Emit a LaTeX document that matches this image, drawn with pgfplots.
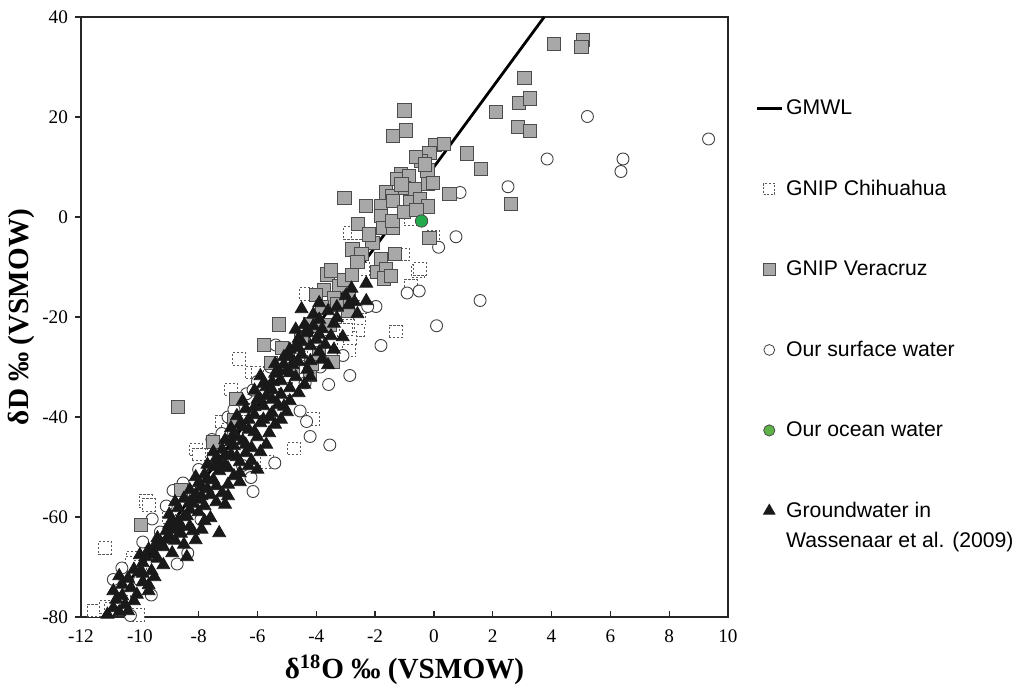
\documentclass[border=0pt]{standalone}
\usepackage{fontspec}
\setmainfont{Liberation Serif}
\newfontfamily\legfont{Liberation Sans}
\usepackage{pgfplots}
\pgfplotsset{compat=1.18}
\definecolor{vgray}{HTML}{A8A8A8}
\definecolor{ogreen}{HTML}{22AA4C}
\definecolor{lgreen}{HTML}{5FB246}
\pgfplotsset{
  lineleg/.style={legend image code/.code={\draw[##1] (0pt,0pt) -- (12.5pt,0pt);}},
  markleg/.style={legend image code/.code={\draw[mark repeat=2,mark phase=2,##1] plot coordinates {(0pt,0pt) (6.25pt,0pt) (12.5pt,0pt)};}},
}
\begin{document}
\begin{tikzpicture}
\begin{axis}[
  at={(0,0)}, anchor=south west,
  scale only axis, width=323.5pt, height=300pt,
  xmin=-12, xmax=10, ymin=-80, ymax=40,
  xtick={-12,-10,...,10}, ytick={-80,-60,...,40},
  xticklabels={-12,-10,-8,-6,-4,-2,0,2,4,6,8,10},
  yticklabels={-80,-60,-40,-20,0,20,40},
  tick label style={font=\fontsize{9.6}{11}\selectfont},
  axis line style={line width=0.7pt, black!85},
  tick style={black!85, line width=0.6pt},
  xtick pos=bottom, ytick pos=left,
  tick align=outside, major tick length=3pt,
  xtick style={yshift=3pt},
  xlabel={δ\textsuperscript{18}O ‰ (VSMOW)},
  ylabel={δD ‰ (VSMOW)},
  label style={font=\fontsize{14.6}{18}\selectfont\bfseries},
  xlabel style={at={(axis description cs:0.5,-0.0883)}, anchor=center},
  ylabel style={at={(axis description cs:-0.0917,0.5)}, anchor=center},
  legend style={at={(axis description cs:1.0417,0.868)}, anchor=north west,
    draw=none, fill=none, font=\legfont\fontsize{10.6}{12}\selectfont,
    row sep=28.2pt, inner sep=0pt, nodes={inner sep=1.5pt}},
  legend cell align=left,
]
% legend images
\addlegendimage{black, line width=1.4pt, lineleg}
\addlegendentry{GMWL}
\addlegendimage{only marks, mark=square*, mark size=2.7pt, mark options={fill=white, draw=black!65, line width=0.4pt, dash pattern=on 1pt off 0.8pt}, markleg}
\addlegendentry{GNIP Chihuahua}
\addlegendimage{only marks, mark=square*, mark size=3pt, mark options={fill=vgray, draw=black!70, line width=0.5pt}, markleg}
\addlegendentry{GNIP Veracruz}
\addlegendimage{only marks, mark=*, mark size=2.7pt, mark options={fill=white, draw=black!75, line width=0.4pt}, markleg}
\addlegendentry{Our surface water}
\addlegendimage{only marks, mark=*, mark size=2.8pt, mark options={fill=lgreen, draw=black!70, line width=0.4pt}, markleg}
\addlegendentry{Our ocean water}
\addlegendimage{only marks, mark=triangle*, mark size=3.3pt, mark options={fill=black!90, draw=black!90}, markleg}
\addlegendentry{\rlap{\raisebox{-15pt}[0pt][0pt]{Wassenaar et al. (2009)}}Groundwater in}

% GMWL
\addplot[black, line width=1.4pt, forget plot] coordinates {(-11.25,-80) (3.75,40)};

% GNIP Chihuahua
\addplot[only marks, mark=square*, mark size=3.2pt, mark options={fill=white, draw=black!65, line width=0.45pt, dash pattern=on 1.1pt off 0.9pt}, forget plot] coordinates {
(-11.19,-66.2) (-11.57,-78.7) (-11.16,-78.0) (-10.23,-68.1) (-10.27,-69.2) (-10.05,-79.6)
(-9.80,-56.75) (-9.70,-57.6) (-8.09,-46.5) (-7.92,-47.5) (-7.22,-40.9) (-6.90,-34.5)
(-6.63,-28.4) (-6.18,-31.1) (-6.0,-31.1) (-4.75,-46.3) (-4.10,-40.4) (-4.35,-15.4)
(-2.86,-3.2) (-2.59,-3.2) (-0.53,-10.8) (-0.48,-10.35) (-1.30,-22.9) (-2.59,-22.6)
(-2.53,-20.3) (-2.93,-21.8) (-2.86,-24.2) (-2.89,-26.7) (-0.79,-13.7) (-1.06,-7.5)
(-0.03,-3.9) (-0.79,-0.35) (-2.40,-10.4) (-4.51,-26.6) (-5.04,-34.4) (-5.67,-49.0)
(-10.53,-77.0) (-10.97,-78.4) (-8.0,-47.5) (-7.0,-42.5) (-6.5,-38.5) (-5.5,-34.0)
(-4.5,-30.0) (-3.5,-25.0) (-3.0,-22.5) (-2.5,-18.0) (-9.0,-60.0) (-10.0,-70.0)
};

% Our surface water
\addplot[only marks, mark=*, mark size=3.0pt, mark options={fill=white, draw=black!75, line width=0.45pt}, forget plot] coordinates {
(5.22,20.1) (9.34,15.6) (3.85,11.6) (6.43,11.6) (6.36,9.1) (2.52,6.05) (0.89,4.9)
(0.75,-3.95) (0.16,-6.05) (1.57,-16.7) (0.09,-21.75) (-0.91,-15.2) (-0.50,-14.8)
(-1.80,-25.7) (-1.97,-17.9) (-2.25,-17.9) (-2.86,-31.7) (-3.58,-33.5) (-3.54,-45.6)
(-4.21,-43.9) (-4.33,-40.9) (-4.55,-38.8) (-5.41,-49.2) (-6.15,-54.9) (-3.09,-27.7)
(-5.38,-25.6) (-5.56,-30.0) (-6.37,-35.35) (-6.15,-34.6) (-7.55,-44.5) (-7.21,-43.3)
(-8.87,-54.7) (-8.53,-53.2) (-9.58,-60.4) (-10.61,-70.2) (-10.32,-79.7) (-9.61,-75.6)
(-8.73,-69.4) (-7.92,-60.5) (-6.22,-52.1) (-6.51,-49.7) (-9.10,-57.8) (-8.37,-67.2)
(-10.42,-73.6) (-10.01,-72.6) (-4.38,-33.2) (-5.19,-37.0) (-6.0,-32.9) (-3.86,-30.0)
(-10.9,-72.5) (-9.9,-65.0) (-8.0,-50.5) (-7.0,-40.0) (-6.8,-38.5) (-9.3,-63.0)
};

% GNIP Veracruz
\addplot[only marks, mark=square*, mark size=3.3pt, mark options={fill=vgray, draw=black!70, line width=0.5pt}, forget plot] coordinates {
(4.07,34.56) (5.06,35.44) (5.02,34.04) (3.08,27.72) (2.89,22.81) (3.26,23.68) (2.86,18.07)
(3.28,17.2) (2.10,20.96) (-1.0,21.3) (-1.40,16.23) (-0.94,17.28) (1.12,12.72) (1.61,9.56)
(2.61,2.63) (0.53,4.65) (0.03,14.39) (0.33,14.56) (-0.15,12.81) (-0.44,11.23) (-0.22,9.3)
(-1.12,8.68) (-1.25,7.54) (-0.85,8.16) (-0.20,6.67) (-0.03,6.84) (-1.03,5.79) (-0.65,5.61)
(-1.62,4.91) (-1.43,4.21) (-1.80,2.28) (-1.38,3.16) (-0.82,2.98) (-0.48,3.6) (-0.20,2.1)
(-3.04,3.86) (-2.30,2.28) (-1.81,0.18) (-1.74,-2.19) (-1.40,-2.1) (-1.41,-0.79) (-1.01,0.96)
(-0.59,1.4) (-0.15,-4.12) (-2.58,-1.4) (-2.09,-5.26) (-2.77,-6.49) (-2.46,-7.46) (-1.81,-8.33)
(-1.32,-7.46) (-1.93,-11.05) (-1.62,-10.44) (-1.71,-12.28) (-1.47,-11.84) (-3.62,-11.49)
(-3.51,-10.7) (-3.21,-13.77) (-3.73,-14.65) (-4.01,-15.53) (-3.05,-12.63) (-2.78,-11.58)
(-2.89,-16.14) (-2.92,-18.77) (-3.39,-16.14) (-4.21,-21.4) (-3.90,-21.84) (-3.55,-21.58)
(-5.28,-21.49) (-5.79,-25.61) (-5.16,-26.14) (-4.80,-30.61) (-4.21,-31.49) (-4.16,-29.39)
(-3.42,-28.95) (-6.72,-36.32) (-8.70,-38.07) (-9.97,-61.67) (-5.54,-29.12) (-3.92,-27.28)
(-6.81,-40.7) (-8.6,-54.6) (-7.5,-45.0) (-2.2,-3.5) (-0.6,12.0) (-0.3,10.5) (-1.1,6.5)
(-2.6,-9.0) (-3.3,-17.5) (-4.5,-24.0) (-3.8,-18.0)
};

% Groundwater (Wassenaar et al. 2009)
\addplot[only marks, mark=triangle*, mark size=3.7pt, mark options={fill=black!90, draw=black!90}, forget plot] coordinates {
(-11.1,-79.5) (-10.9,-78.2) (-10.7,-79.0) (-10.5,-77.5) (-10.8,-76.5) (-10.4,-78.8) (-10.6,-75.8)
(-10.9,-74.8) (-10.6,-73.5) (-10.3,-74.2) (-10.1,-75.5) (-10.4,-72.3) (-9.9,-73.0) (-10.7,-71.8) (-9.7,-74.8) (-9.7,-73.6)
(-10.2,-70.5) (-9.9,-69.2) (-9.6,-70.8) (-10.0,-67.6) (-9.4,-68.3) (-9.7,-66.5) (-9.2,-69.6) (-9.5,-65.8) (-8.9,-67.2) (-8.4,-68.0)
(-9.4,-64.2) (-9.1,-62.8) (-8.8,-64.7) (-9.0,-61.5) (-8.6,-63.3) (-8.3,-61.9) (-8.1,-64.6) (-8.7,-60.8) (-7.3,-63.2) (-8.5,-65.5)
(-9.0,-59.5) (-8.7,-58.2) (-8.4,-59.8) (-8.2,-57.3) (-8.0,-59.0) (-7.8,-57.8) (-8.5,-56.3) (-7.6,-60.2) (-7.9,-55.8) (-8.8,-57.0)
(-8.3,-54.6) (-8.0,-53.2) (-7.7,-54.4) (-7.5,-52.6) (-7.2,-55.2) (-7.8,-51.5) (-7.3,-50.8) (-7.0,-53.5) (-8.1,-52.0) (-6.8,-51.8)
(-7.7,-49.5) (-7.4,-48.2) (-7.1,-49.6) (-6.9,-47.5) (-6.6,-49.0) (-7.2,-46.5) (-6.4,-47.2) (-6.0,-50.5) (-6.8,-45.8) (-7.5,-47.0)
(-7.1,-44.6) (-6.8,-43.3) (-6.5,-44.8) (-6.3,-42.5) (-6.0,-44.0) (-6.6,-41.5) (-5.9,-41.2) (-5.6,-43.2) (-6.9,-42.2) (-6.2,-46.2)
(-6.7,-39.8) (-6.4,-38.4) (-6.1,-39.6) (-5.8,-37.8) (-5.5,-39.2) (-6.0,-36.5) (-5.3,-37.6) (-5.1,-37.9) (-5.7,-35.8) (-6.5,-36.8)
(-6.1,-34.7) (-5.8,-33.3) (-5.5,-34.6) (-5.2,-32.8) (-4.9,-34.2) (-5.4,-31.3) (-4.7,-32.0) (-5.9,-31.8) (-4.4,-33.5) (-5.0,-30.8)
(-5.4,-29.4) (-5.1,-28.0) (-4.8,-29.6) (-4.5,-27.5) (-4.2,-28.8) (-4.6,-26.2) (-3.9,-27.0) (-3.6,-29.6) (-4.9,-26.5) (-4.3,-30.5)
(-4.6,-24.3) (-4.3,-23.2) (-4.0,-24.5) (-3.8,-22.4) (-3.5,-23.8) (-4.4,-21.6) (-3.1,-24.0) (-3.4,-21.3) (-4.7,-22.5) (-3.7,-25.5)
(-4.1,-19.5) (-3.6,-18.8) (-3.3,-20.2) (-2.9,-17.6) (-2.6,-19.4) (-2.3,-16.8) (-3.0,-15.8) (-2.3,-13.3) (-2.8,-14.3) (-4.5,-18.4) (-3.9,-17.2)
(-9.2,-66.0) (-9.0,-63.8) (-8.9,-61.0) (-8.6,-61.8) (-8.3,-58.5) (-8.0,-56.5) (-7.6,-55.6) (-7.4,-53.8) (-7.0,-50.2) (-6.7,-48.0)
(-6.4,-45.5) (-6.1,-43.0) (-5.8,-40.5) (-5.5,-36.5) (-5.2,-35.5) (-4.9,-31.2) (-4.6,-29.0) (-4.2,-25.8) (-3.9,-23.5) (-9.5,-72.0)
(-10.2,-76.8) (-9.9,-71.3) (-7.9,-62.5) (-7.1,-57.5) (-6.6,-53.0) (-6.2,-48.8) (-5.7,-45.5) (-5.4,-41.5) (-5.0,-39.0)
(-10.0,-71.0) (-9.8,-68.0) (-9.5,-67.5) (-9.3,-65.0) (-9.1,-64.5) (-8.9,-62.5) (-8.7,-62.0) (-8.5,-60.0) (-8.3,-57.0) (-8.1,-55.5)
(-7.9,-54.0) (-7.7,-52.5) (-7.5,-50.0) (-7.3,-49.0) (-7.1,-47.8) (-6.9,-45.0) (-6.7,-44.0) (-6.5,-42.0) (-6.3,-40.5) (-6.1,-38.0)
(-5.9,-36.5) (-5.7,-34.0) (-5.5,-33.0) (-5.3,-30.5) (-5.1,-29.5) (-4.9,-27.8) (-4.7,-25.8) (-4.5,-25.0) (-4.3,-22.5) (-4.1,-21.8)
(-3.9,-20.5) (-8.2,-62.8) (-7.8,-60.8) (-7.4,-57.0) (-7.0,-55.8) (-6.6,-51.2) (-6.3,-49.8) (-5.9,-47.0) (-5.6,-40.0) (-5.2,-40.5)
(-4.9,-36.8) (-4.6,-35.2) (-4.2,-32.0) (-3.8,-28.5) (-3.4,-26.5) (-3.3,-18.0) (-2.7,-17.0)
};

% Our ocean water
\addplot[only marks, mark=*, mark size=3.1pt, mark options={fill=ogreen, draw=black!70, line width=0.4pt}, forget plot] coordinates {(-0.42,-0.8)};
\end{axis}
\pgfresetboundingbox
\path (-40.5pt,-35pt) rectangle (469pt,308.5pt);
\end{tikzpicture}
\end{document}
